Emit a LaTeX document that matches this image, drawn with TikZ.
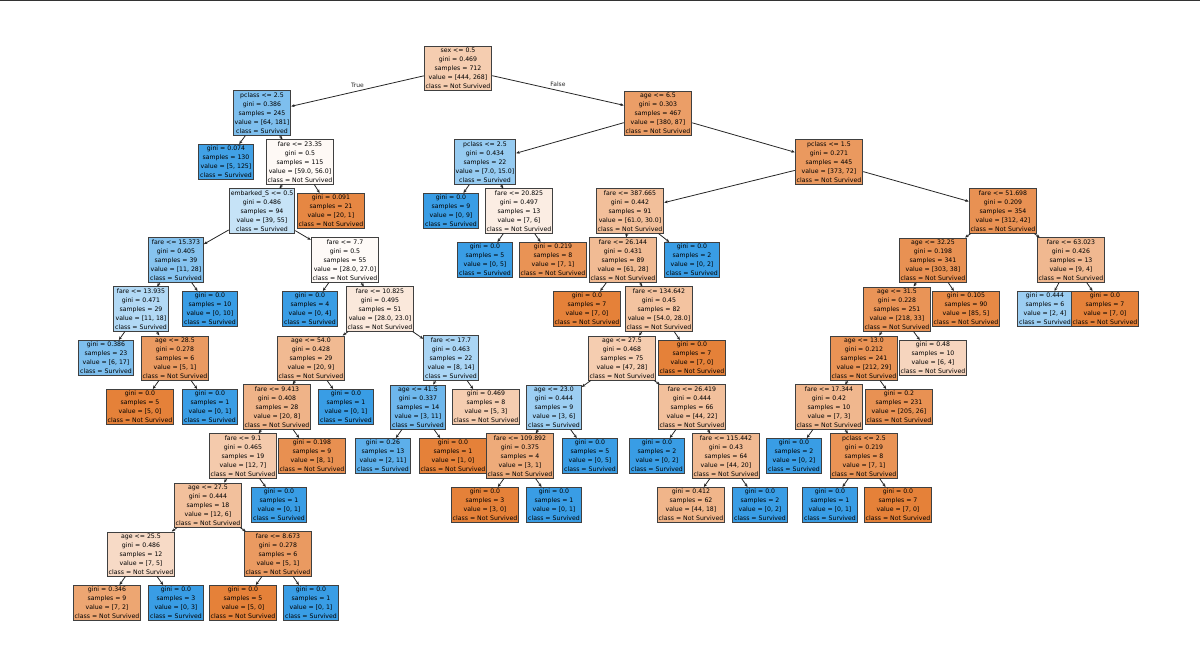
\documentclass[tikz,border=0pt]{standalone}
\usepackage{fontspec}
\setmainfont{DejaVu Sans}
\usepackage{xcolor}
\usepackage{tikz}
\usetikzlibrary{arrows.meta}
\definecolor{ns}{HTML}{E58139}
\definecolor{sv}{HTML}{399DE5}
\begin{document}
\begin{tikzpicture}[x=1pt, y=-1pt,
    box/.style={draw=black!75, line width=0.9pt, align=center, inner sep=1.5pt,
      font=\fontsize{6.2}{9.1}\selectfont},
    edge/.style={-{Stealth[length=3.5pt, width=3pt]}, line width=0.8pt, black!85}]
	\useasboundingbox (0,0) rectangle (1200,666);
	\draw[line width=2pt, black!80] (0,0) -- (1200,0);
	% Nodes (left part)
	\node[box, fill=ns!40] (r) at (458,68) {sex <= 0.5\\gini = 0.469\\samples = 712\\value = [444, 268]\\class = Not Survived};
	\node[box, fill=sv!65] (L) at (262,113) {pclass <= 2.5\\gini = 0.386\\samples = 245\\value = [64, 181]\\class = Survived};
	\node[box, fill=sv!96] (LL) at (226,162) {gini = 0.074\\samples = 130\\value = [5, 125]\\class = Survived};
	\node[box, fill=ns!5] (LR) at (300,162) {fare <= 23.35\\gini = 0.5\\samples = 115\\value = [59.0, 56.0]\\class = Not Survived};
	\node[box, fill=sv!29] (LRL) at (262,211) {embarked\_S <= 0.5\\gini = 0.486\\samples = 94\\value = [39, 55]\\class = Survived};
	\node[box, fill=ns!95] (LRR) at (331,211) {gini = 0.091\\samples = 21\\value = [20, 1]\\class = Not Survived};
	\node[box, fill=sv!61] (LRLL) at (176,260) {fare <= 15.373\\gini = 0.405\\samples = 39\\value = [11, 28]\\class = Survived};
	\node[box, fill=ns!4] (LRLR) at (345,260) {fare <= 7.7\\gini = 0.5\\samples = 55\\value = [28.0, 27.0]\\class = Not Survived};
	\node[box, fill=sv!39] (LRLLL) at (141,309) {fare <= 13.935\\gini = 0.471\\samples = 29\\value = [11, 18]\\class = Survived};
	\node[box, fill=sv] (LRLLR) at (210,309) {gini = 0.0\\samples = 10\\value = [0, 10]\\class = Survived};
	\node[box, fill=sv!65] (LRLLLL) at (106,358) {gini = 0.386\\samples = 23\\value = [6, 17]\\class = Survived};
	\node[box, fill=ns!80] (LRLLLR) at (175,358) {age <= 28.5\\gini = 0.278\\samples = 6\\value = [5, 1]\\class = Not Survived};
	\node[box, fill=ns] (LRLLLRL) at (140,407) {gini = 0.0\\samples = 5\\value = [5, 0]\\class = Not Survived};
	\node[box, fill=sv] (LRLLLRR) at (210,407) {gini = 0.0\\samples = 1\\value = [0, 1]\\class = Survived};
	\node[box, fill=sv] (LRLRL) at (310,309) {gini = 0.0\\samples = 4\\value = [0, 4]\\class = Survived};
	\node[box, fill=ns!18] (LRLRR) at (380,309) {fare <= 10.825\\gini = 0.495\\samples = 51\\value = [28.0, 23.0]\\class = Not Survived};
	\node[box, fill=ns!55] (a54) at (311,358) {age <= 54.0\\gini = 0.428\\samples = 29\\value = [20, 9]\\class = Not Survived};
	\node[box, fill=sv!43] (f177) at (451,358) {fare <= 17.7\\gini = 0.463\\samples = 22\\value = [8, 14]\\class = Survived};
	\node[box, fill=ns!60] (f9413) at (277,407) {fare <= 9.413\\gini = 0.408\\samples = 28\\value = [20, 8]\\class = Not Survived};
	\node[box, fill=sv] (a54R) at (346,407) {gini = 0.0\\samples = 1\\value = [0, 1]\\class = Survived};
	\node[box, fill=ns!42] (f91) at (243,456) {fare <= 9.1\\gini = 0.465\\samples = 19\\value = [12, 7]\\class = Not Survived};
	\node[box, fill=ns!88] (f9413R) at (312,456) {gini = 0.198\\samples = 9\\value = [8, 1]\\class = Not Survived};
	\node[box, fill=ns!50] (a275) at (208,505) {age <= 27.5\\gini = 0.444\\samples = 18\\value = [12, 6]\\class = Not Survived};
	\node[box, fill=sv] (f91R) at (279,505) {gini = 0.0\\samples = 1\\value = [0, 1]\\class = Survived};
	\node[box, fill=ns!29] (a255) at (141,554) {age <= 25.5\\gini = 0.486\\samples = 12\\value = [7, 5]\\class = Not Survived};
	\node[box, fill=ns!80] (f8673) at (278,554) {fare <= 8.673\\gini = 0.278\\samples = 6\\value = [5, 1]\\class = Not Survived};
	\node[box, fill=ns!71] (a255L) at (107,603) {gini = 0.346\\samples = 9\\value = [7, 2]\\class = Not Survived};
	\node[box, fill=sv] (a255R) at (176,603) {gini = 0.0\\samples = 3\\value = [0, 3]\\class = Survived};
	\node[box, fill=ns] (f8673L) at (243,603) {gini = 0.0\\samples = 5\\value = [5, 0]\\class = Not Survived};
	\node[box, fill=sv] (f8673R) at (311,603) {gini = 0.0\\samples = 1\\value = [0, 1]\\class = Survived};
	\node[box, fill=sv!73] (a415) at (418,407) {age <= 41.5\\gini = 0.337\\samples = 14\\value = [3, 11]\\class = Survived};
	\node[box, fill=ns!40] (f177R) at (486,407) {gini = 0.469\\samples = 8\\value = [5, 3]\\class = Not Survived};
	\node[box, fill=sv!82] (a415L) at (383,456) {gini = 0.26\\samples = 13\\value = [2, 11]\\class = Survived};
	\node[box, fill=ns] (a415R) at (453,456) {gini = 0.0\\samples = 1\\value = [1, 0]\\class = Not Survived};
	% Nodes (right part)
	\node[box, fill=ns!77] (R) at (658,113) {age <= 6.5\\gini = 0.303\\samples = 467\\value = [380, 87]\\class = Not Survived};
	\node[box, fill=sv!53] (RL) at (485,162) {pclass <= 2.5\\gini = 0.434\\samples = 22\\value = [7.0, 15.0]\\class = Survived};
	\node[box, fill=ns!81] (RR) at (829,162) {pclass <= 1.5\\gini = 0.271\\samples = 445\\value = [373, 72]\\class = Not Survived};
	\node[box, fill=sv] (RLL) at (451,211) {gini = 0.0\\samples = 9\\value = [0, 9]\\class = Survived};
	\node[box, fill=ns!14] (RLR) at (519,211) {fare <= 20.825\\gini = 0.497\\samples = 13\\value = [7, 6]\\class = Not Survived};
	\node[box, fill=sv] (RLRL) at (485,260) {gini = 0.0\\samples = 5\\value = [0, 5]\\class = Survived};
	\node[box, fill=ns!86] (RLRR) at (553,260) {gini = 0.219\\samples = 8\\value = [7, 1]\\class = Not Survived};
	\node[box, fill=ns!51] (RRL) at (630,211) {fare <= 387.665\\gini = 0.442\\samples = 91\\value = [61.0, 30.0]\\class = Not Survived};
	\node[box, fill=ns!87] (RRR) at (1003,211) {fare <= 51.698\\gini = 0.209\\samples = 354\\value = [312, 42]\\class = Not Survived};
	\node[box, fill=ns!54] (f26144) at (623,260) {fare <= 26.144\\gini = 0.431\\samples = 89\\value = [61, 28]\\class = Not Survived};
	\node[box, fill=sv] (RRLR) at (692,260) {gini = 0.0\\samples = 2\\value = [0, 2]\\class = Survived};
	\node[box, fill=ns] (f26144L) at (587,309) {gini = 0.0\\samples = 7\\value = [7, 0]\\class = Not Survived};
	\node[box, fill=ns!48] (f134) at (659,309) {fare <= 134.642\\gini = 0.45\\samples = 82\\value = [54.0, 28.0]\\class = Not Survived};
	\node[box, fill=ns!40] (a275b) at (622,358) {age <= 27.5\\gini = 0.468\\samples = 75\\value = [47, 28]\\class = Not Survived};
	\node[box, fill=ns] (f134R) at (692,358) {gini = 0.0\\samples = 7\\value = [7, 0]\\class = Not Survived};
	\node[box, fill=sv!50] (a23) at (554,407) {age <= 23.0\\gini = 0.444\\samples = 9\\value = [3, 6]\\class = Survived};
	\node[box, fill=ns!50] (f26419) at (692,407) {fare <= 26.419\\gini = 0.444\\samples = 66\\value = [44, 22]\\class = Not Survived};
	\node[box, fill=ns!67] (f109) at (520,456) {fare <= 109.892\\gini = 0.375\\samples = 4\\value = [3, 1]\\class = Not Survived};
	\node[box, fill=sv] (a23R) at (590,456) {gini = 0.0\\samples = 5\\value = [0, 5]\\class = Survived};
	\node[box, fill=ns] (f109L) at (485,505) {gini = 0.0\\samples = 3\\value = [3, 0]\\class = Not Survived};
	\node[box, fill=sv] (f109R) at (554,505) {gini = 0.0\\samples = 1\\value = [0, 1]\\class = Survived};
	\node[box, fill=sv] (f26419L) at (657,456) {gini = 0.0\\samples = 2\\value = [0, 2]\\class = Survived};
	\node[box, fill=ns!55] (f115) at (726,456) {fare <= 115.442\\gini = 0.43\\samples = 64\\value = [44, 20]\\class = Not Survived};
	\node[box, fill=ns!59] (f115L) at (691,505) {gini = 0.412\\samples = 62\\value = [44, 18]\\class = Not Survived};
	\node[box, fill=sv] (f115R) at (760,505) {gini = 0.0\\samples = 2\\value = [0, 2]\\class = Survived};
	\node[box, fill=ns!87] (a3225) at (933,260) {age <= 32.25\\gini = 0.198\\samples = 341\\value = [303, 38]\\class = Not Survived};
	\node[box, fill=ns!56] (f63) at (1071,260) {fare <= 63.023\\gini = 0.426\\samples = 13\\value = [9, 4]\\class = Not Survived};
	\node[box, fill=ns!85] (a315) at (897,309) {age <= 31.5\\gini = 0.228\\samples = 251\\value = [218, 33]\\class = Not Survived};
	\node[box, fill=ns!94] (a3225R) at (966,309) {gini = 0.105\\samples = 90\\value = [85, 5]\\class = Not Survived};
	\node[box, fill=sv!50] (f63L) at (1045,309) {gini = 0.444\\samples = 6\\value = [2, 4]\\class = Survived};
	\node[box, fill=ns] (f63R) at (1105,309) {gini = 0.0\\samples = 7\\value = [7, 0]\\class = Not Survived};
	\node[box, fill=ns!86] (a13) at (864,358) {age <= 13.0\\gini = 0.212\\samples = 241\\value = [212, 29]\\class = Not Survived};
	\node[box, fill=ns!33] (a315R) at (933,358) {gini = 0.48\\samples = 10\\value = [6, 4]\\class = Not Survived};
	\node[box, fill=ns!57] (f17344) at (829,407) {fare <= 17.344\\gini = 0.42\\samples = 10\\value = [7, 3]\\class = Not Survived};
	\node[box, fill=ns!87] (a13R) at (899,407) {gini = 0.2\\samples = 231\\value = [205, 26]\\class = Not Survived};
	\node[box, fill=sv] (f17344L) at (794,456) {gini = 0.0\\samples = 2\\value = [0, 2]\\class = Survived};
	\node[box, fill=ns!86] (p25) at (864,456) {pclass <= 2.5\\gini = 0.219\\samples = 8\\value = [7, 1]\\class = Not Survived};
	\node[box, fill=sv] (p25L) at (830,505) {gini = 0.0\\samples = 1\\value = [0, 1]\\class = Survived};
	\node[box, fill=ns] (p25R) at (898,505) {gini = 0.0\\samples = 7\\value = [7, 0]\\class = Not Survived};
	% Edges
	\draw[edge] (r) -- (L) node[midway, above, font=\fontsize{6}{7}\selectfont] {True};
	\draw[edge] (r) -- (R) node[midway, above, font=\fontsize{6}{7}\selectfont] {False};
	\foreach \a/\b in {L/LL, L/LR, LR/LRL, LR/LRR, LRL/LRLL, LRL/LRLR, LRLL/LRLLL, LRLL/LRLLR,
	    LRLLL/LRLLLL, LRLLL/LRLLLR, LRLLLR/LRLLLRL, LRLLLR/LRLLLRR, LRLR/LRLRL, LRLR/LRLRR,
	    LRLRR/a54, LRLRR/f177, a54/f9413, a54/a54R, f9413/f91, f9413/f9413R, f91/a275, f91/f91R,
	    a275/a255, a275/f8673, a255/a255L, a255/a255R, f8673/f8673L, f8673/f8673R,
	    f177/a415, f177/f177R, a415/a415L, a415/a415R,
	    R/RL, R/RR, RL/RLL, RL/RLR, RLR/RLRL, RLR/RLRR, RR/RRL, RR/RRR, RRL/f26144, RRL/RRLR,
	    f26144/f26144L, f26144/f134, f134/a275b, f134/f134R, a275b/a23, a275b/f26419,
	    a23/f109, a23/a23R, f109/f109L, f109/f109R, f26419/f26419L, f26419/f115, f115/f115L, f115/f115R,
	    RRR/a3225, RRR/f63, a3225/a315, a3225/a3225R, f63/f63L, f63/f63R, a315/a13, a315/a315R,
	    a13/f17344, a13/a13R, f17344/f17344L, f17344/p25, p25/p25L, p25/p25R}
	  \draw[edge] (\a) -- (\b);
\end{tikzpicture}
\end{document}
